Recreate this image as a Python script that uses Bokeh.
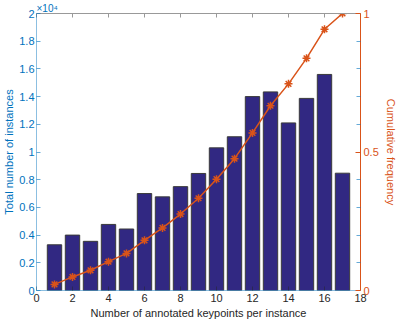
from bokeh.plotting import figure
from bokeh.models import Range1d, LinearAxis, FixedTicker
from bokeh.embed import file_html
from bokeh.resources import INLINE

keypoints = list(range(1, 18))
instances = [3300, 4000, 3550, 4770, 4440, 7000, 6760, 7500, 8450,
             10300, 11100, 14000, 14340, 12100, 13870, 15600, 8470]
cumulative = [0.022, 0.049, 0.073, 0.104, 0.134, 0.181, 0.226, 0.276, 0.333,
              0.402, 0.476, 0.569, 0.667, 0.746, 0.838, 0.943, 1.0]

left_ticks = [0, 2000, 4000, 6000, 8000, 10000, 12000, 14000, 16000, 18000, 20000]
left_labels = ["0", "0.2", "0.4", "0.6", "0.8", "1", "1.2", "1.4", "1.6", "1.8", "2"]
x_ticks = [0, 2, 4, 6, 8, 10, 12, 14, 16, 18]
right_ticks = [0, 0.5, 1]
right_minor = [0.1, 0.2, 0.3, 0.4, 0.6, 0.7, 0.8, 0.9]

BLUE = "#0072BD"
ORANGE = "#D95319"
GRAY = "#262626"
FONT = "Liberation Sans"

p = figure(width=399, height=321, output_backend="svg", toolbar_location=None,
           x_range=Range1d(0, 18), y_range=Range1d(0, 20000),
           min_border_left=0, min_border_right=0, min_border_top=0, min_border_bottom=0)
p.grid.visible = False
p.outline_line_color = None
p.background_fill_color = "white"

p.title.text = "\u00d710\u2074"
p.title.align = "left"
p.title.text_color = BLUE
p.title.text_font = FONT
p.title.text_font_size = "10px"
p.title.text_font_style = "normal"
p.title.offset = 0
p.title.standoff = 0

p.extra_y_ranges = {"cum": Range1d(0, 1)}

p.vbar(x=keypoints, top=instances, width=0.8, fill_color="#312882",
       line_color="#3a3a3a", line_width=1)
p.line(x=keypoints, y=cumulative, y_range_name="cum", line_color=ORANGE, line_width=1.5)
p.scatter(x=keypoints, y=cumulative, y_range_name="cum", marker="asterisk",
          size=8, line_color=ORANGE, line_width=1.5)

# left axis
ya = p.yaxis[0]
ya.ticker = FixedTicker(ticks=left_ticks)
ya.major_label_overrides = {t: l for t, l in zip(left_ticks, left_labels)}
ya.axis_label = "Total number of instances"
ya.axis_line_color = BLUE
ya.axis_line_alpha = 0.45
ya.major_tick_line_color = BLUE
ya.major_tick_line_alpha = 0.6
ya.major_tick_in = 4
ya.major_tick_out = 0
ya.minor_tick_line_color = None
ya.major_label_text_color = BLUE
ya.axis_label_text_color = BLUE
ya.major_label_text_font = FONT
ya.axis_label_text_font = FONT
ya.major_label_text_font_size = "11px"
ya.axis_label_text_font_size = "11px"
ya.axis_label_text_font_style = "normal"
ya.major_label_standoff = 2
ya.axis_label_standoff = 1

# bottom axis
xa = p.xaxis[0]
xa.ticker = FixedTicker(ticks=x_ticks)
xa.axis_label = "Number of annotated keypoints per instance"
xa.axis_line_color = BLUE
xa.axis_line_alpha = 0.45
xa.major_tick_line_color = GRAY
xa.major_tick_line_alpha = 0.5
xa.major_tick_in = 4
xa.major_tick_out = 0
xa.minor_tick_line_color = None
xa.major_label_text_color = GRAY
xa.axis_label_text_color = GRAY
xa.major_label_text_font = FONT
xa.axis_label_text_font = FONT
xa.major_label_text_font_size = "11px"
xa.axis_label_text_font_size = "11px"
xa.axis_label_text_font_style = "normal"
xa.major_label_standoff = 3
xa.axis_label_standoff = 2

# top axis (ticks only)
ta = LinearAxis(ticker=FixedTicker(ticks=x_ticks))
ta.axis_line_color = "#999999"
ta.major_tick_line_color = "#999999"
ta.major_tick_in = 4
ta.major_tick_out = 0
ta.minor_tick_line_color = None
ta.major_label_overrides = {t: "" for t in x_ticks}
ta.major_label_standoff = 0
p.add_layout(ta, "above")

# right axis
ra = LinearAxis(y_range_name="cum", ticker=FixedTicker(ticks=right_ticks, minor_ticks=right_minor))
ra.axis_label = "Cumulative frequency"
ra.axis_line_color = ORANGE
ra.major_tick_line_color = ORANGE
ra.major_tick_in = 5
ra.major_tick_out = 0
ra.minor_tick_line_color = BLUE
ra.minor_tick_line_alpha = 0.6
ra.minor_tick_in = 4
ra.minor_tick_out = 0
ra.major_label_text_color = ORANGE
ra.axis_label_text_color = ORANGE
ra.major_label_text_font = FONT
ra.axis_label_text_font = FONT
ra.major_label_text_font_size = "11px"
ra.axis_label_text_font_size = "11px"
ra.axis_label_text_font_style = "normal"
ra.major_label_standoff = 3
ra.axis_label_standoff = 3
p.add_layout(ra, "right")

open("out.html", "w").write(file_html(p, INLINE))
